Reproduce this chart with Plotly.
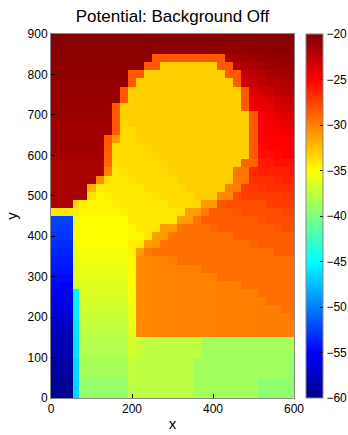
import plotly.graph_objects as go

title_text = "Potential: Background Off"
x_label = "x"
y_label = "y"

# cell edges of the potential map (data units)
x_edges = [0, 55, 70, 90, 110, 130, 150, 170, 190, 210, 230, 250, 270, 290, 310, 330,
           350, 370, 390, 410, 430, 450, 470, 490, 510, 530, 550, 570, 590, 600]
y_edges = [0, 50, 100, 150, 170, 190, 210, 230, 250, 270, 290, 310, 330, 350, 370, 390,
           410, 430, 450, 470, 490, 510, 530, 550, 570, 590, 610, 630, 650, 670, 690,
           710, 730, 750, 770, 790, 810, 830, 850, 870, 890, 900]

x_ticks = [0, 200, 400, 600]
y_ticks = [0, 100, 200, 300, 400, 500, 600, 700, 800, 900]
cbar_ticks = [-20, -25, -30, -35, -40, -45, -50, -55, -60]

# potential values, bottom row first,
# each row written as (value, number of cells) runs from left to right
potential_runs = [
    [(-59.5, 1), (-46.5, 1), (-39.1, 6), (-37.6, 8), (-38.6, 8), (-39.4, 5)],
    [(-59.0, 1), (-46.3, 1), (-38.5, 6), (-37.3, 1), (-37.6, 7), (-38.6, 12), (-39.4, 1)],
    [(-58.3, 1), (-46.0, 1), (-38.0, 6), (-36.7, 1), (-37.2, 1), (-37.6, 7), (-38.6, 12)],
    [(-58.0, 1), (-45.8, 1), (-37.6, 6), (-36.2, 1), (-30.4, 1), (-30.3, 1), (-30.1, 8), (-30.0, 5), (-29.9, 5)],
    [(-57.5, 1), (-45.7, 1), (-37.4, 6), (-36.0, 1), (-30.4, 1), (-30.3, 1), (-30.1, 8), (-30.0, 5), (-29.9, 5)],
    [(-57.0, 1), (-45.6, 1), (-37.2, 6), (-35.8, 1), (-30.4, 1), (-30.3, 1), (-30.1, 8), (-30.0, 5), (-29.9, 4), (-29.6, 1)],
    [(-56.5, 1), (-45.5, 1), (-36.9, 6), (-35.6, 1), (-30.4, 1), (-30.3, 1), (-30.1, 8), (-30.0, 5), (-29.9, 3), (-29.3, 2)],
    [(-56.0, 1), (-45.4, 1), (-36.6, 6), (-35.4, 1), (-30.4, 1), (-30.3, 1), (-30.1, 8), (-30.0, 5), (-29.9, 1), (-29.3, 4)],
    [(-55.5, 1), (-45.3, 1), (-36.4, 6), (-35.2, 1), (-30.4, 1), (-30.3, 1), (-30.1, 8), (-30.0, 4), (-29.9, 1), (-29.3, 5)],
    [(-55.0, 1), (-36.5, 1), (-36.2, 6), (-35.1, 1), (-30.4, 1), (-30.3, 1), (-30.1, 8), (-30.0, 2), (-29.9, 1), (-29.3, 7)],
    [(-54.6, 1), (-36.3, 1), (-36.0, 6), (-35.0, 1), (-30.4, 1), (-30.3, 1), (-30.1, 8), (-29.3, 10)],
    [(-54.2, 1), (-36.1, 1), (-35.8, 6), (-34.9, 1), (-30.4, 1), (-30.3, 1), (-30.1, 5), (-29.9, 1), (-29.3, 12)],
    [(-53.9, 1), (-35.9, 1), (-35.6, 6), (-34.8, 1), (-30.5, 1), (-30.3, 1), (-30.1, 2), (-29.9, 1), (-29.3, 15)],
    [(-53.6, 1), (-35.7, 1), (-35.4, 6), (-34.6, 1), (-31.2, 1), (-29.8, 1), (-29.3, 15), (-28.6, 3)],
    [(-53.3, 1), (-35.4, 1), (-35.1, 6), (-34.4, 1), (-34.3, 1), (-31.2, 1), (-31.0, 1), (-29.5, 1), (-29.3, 10), (-28.9, 1), (-28.6, 5)],
    [(-53.0, 1), (-35.3, 1), (-35.0, 6), (-34.7, 2), (-34.1, 1), (-31.2, 2), (-29.5, 1), (-29.3, 7), (-28.6, 8)],
    [(-52.7, 1), (-35.3, 1), (-35.0, 6), (-34.7, 1), (-34.1, 3), (-31.2, 2), (-29.6, 1), (-29.3, 3), (-29.0, 1), (-28.6, 7), (-28.3, 1), (-28.0, 2)],
    [(-52.4, 1), (-35.3, 1), (-35.0, 6), (-34.1, 6), (-31.2, 2), (-29.5, 1), (-28.6, 7), (-28.3, 1), (-28.0, 4)],
    [(-34.0, 1), (-34.3, 1), (-34.7, 5), (-34.4, 1), (-34.1, 6), (-33.8, 1), (-31.2, 2), (-29.8, 1), (-28.6, 3), (-28.3, 1), (-28.0, 5), (-27.7, 1), (-27.4, 1)],
    [(-21.6, 1), (-33.5, 1), (-34.4, 1), (-34.7, 3), (-34.4, 1), (-34.1, 6), (-33.6, 3), (-33.3, 1), (-31.0, 2), (-28.3, 1), (-28.0, 5), (-27.4, 4)],
    [(-21.6, 3), (-33.8, 1), (-34.7, 1), (-34.4, 1), (-34.1, 5), (-33.8, 1), (-33.6, 4), (-33.1, 3), (-30.5, 2), (-28.0, 1), (-27.4, 5), (-27.1, 1), (-26.8, 1)],
    [(-21.6, 3), (-32.0, 1), (-34.1, 6), (-33.6, 5), (-33.1, 5), (-30.0, 2), (-27.4, 2), (-27.1, 1), (-26.8, 4)],
    [(-21.6, 4), (-30.5, 1), (-33.8, 1), (-34.1, 2), (-33.8, 1), (-33.6, 5), (-33.1, 7), (-29.8, 2), (-26.8, 3), (-26.5, 1), (-26.2, 2)],
    [(-21.6, 5), (-30.0, 1), (-34.1, 1), (-33.8, 1), (-33.6, 5), (-33.3, 1), (-33.1, 7), (-29.5, 2), (-26.5, 1), (-26.2, 4), (-25.9, 1)],
    [(-21.6, 5), (-29.0, 1), (-33.8, 1), (-33.6, 5), (-33.3, 1), (-33.1, 9), (-28.8, 2), (-26.2, 1), (-25.9, 1), (-25.6, 3)],
    [(-21.5, 5), (-28.8, 1), (-33.6, 5), (-33.3, 1), (-33.1, 11), (-28.5, 1), (-25.6, 2), (-25.3, 1), (-25.0, 2)],
    [(-21.3, 5), (-28.6, 1), (-33.6, 4), (-33.3, 1), (-33.1, 12), (-28.5, 1), (-25.3, 1), (-25.1, 1), (-25.0, 3)],
    [(-21.3, 5), (-28.5, 1), (-31.0, 1), (-33.6, 2), (-33.3, 1), (-33.1, 13), (-28.5, 1), (-25.0, 5)],
    [(-21.3, 6), (-28.5, 1), (-33.6, 2), (-33.1, 14), (-28.5, 1), (-25.0, 1), (-24.9, 1), (-24.7, 1), (-24.5, 1), (-24.4, 1)],
    [(-21.3, 6), (-28.5, 1), (-33.3, 1), (-33.1, 15), (-28.5, 1), (-25.0, 1), (-24.7, 1), (-24.4, 1), (-24.2, 1), (-24.0, 1)],
    [(-21.0, 6), (-28.5, 1), (-33.1, 16), (-28.5, 1), (-24.8, 1), (-24.4, 1), (-24.0, 1), (-23.7, 1), (-23.5, 1)],
    [(-21.0, 6), (-28.5, 1), (-33.1, 15), (-28.5, 1), (-24.6, 1), (-24.3, 1), (-24.0, 1), (-23.6, 1), (-23.3, 1), (-23.0, 1)],
    [(-21.0, 7), (-28.5, 1), (-33.1, 14), (-28.5, 1), (-24.1, 1), (-23.8, 1), (-23.4, 1), (-23.0, 1), (-22.7, 1), (-22.5, 1)],
    [(-21.0, 7), (-28.5, 1), (-33.1, 14), (-28.5, 1), (-23.6, 1), (-23.2, 1), (-22.8, 1), (-22.5, 1), (-22.3, 1), (-22.1, 1)],
    [(-20.8, 8), (-28.5, 1), (-33.1, 12), (-28.5, 1), (-23.1, 1), (-22.8, 1), (-22.4, 1), (-22.1, 1), (-21.9, 1), (-21.8, 1), (-21.7, 1)],
    [(-20.6, 8), (-28.5, 2), (-33.1, 10), (-28.5, 2), (-22.6, 1), (-22.3, 1), (-22.0, 1), (-21.7, 1), (-21.5, 1), (-21.4, 1), (-21.3, 1)],
    [(-20.6, 10), (-28.5, 2), (-33.1, 7), (-28.5, 2), (-22.2, 1), (-21.9, 1), (-21.6, 1), (-21.4, 1), (-21.2, 1), (-21.1, 1), (-21.0, 2)],
    [(-20.5, 11), (-28.5, 9), (-21.5, 1), (-21.3, 1), (-21.1, 1), (-21.0, 1), (-20.9, 1), (-20.8, 2), (-20.7, 2)],
    [(-20.3, 11), (-20.6, 9), (-20.8, 1), (-20.7, 1), (-20.6, 2), (-20.5, 2), (-20.4, 3)],
    [(-20.2, 20), (-20.3, 9)],
    [(-20.1, 29)],
]

z = []
for runs in potential_runs:
    row = []
    for value, count in runs:
        row.extend([value] * count)
    assert len(row) == len(x_edges) - 1, (len(row), runs)
    z.append(row)
assert len(z) == len(y_edges) - 1

jet = [
    [0.0, "rgb(0,0,135)"],
    [0.125, "rgb(0,0,255)"],
    [0.375, "rgb(0,255,255)"],
    [0.625, "rgb(255,255,0)"],
    [0.875, "rgb(255,0,0)"],
    [1.0, "rgb(128,0,0)"],
]

fig = go.Figure(
    go.Heatmap(
        x=x_edges,
        y=y_edges,
        z=z,
        zmin=-60,
        zmax=-20,
        colorscale=jet,
        zsmooth=False,
        hoverinfo="skip",
        colorbar=dict(
            thickness=17,
            thicknessmode="pixels",
            len=1,
            lenmode="fraction",
            x=1.049,
            xanchor="left",
            xpad=0,
            ypad=0,
            y=0.5,
            yanchor="middle",
            tickvals=cbar_ticks,
            ticks="inside",
            ticklen=3,
            tickcolor="black",
            tickfont=dict(size=12, color="black"),
            outlinewidth=1,
            outlinecolor="#888888",
        ),
    )
)

fig.update_layout(
    width=348,
    height=435,
    margin=dict(l=51, r=54, t=34, b=37, autoexpand=False),
    paper_bgcolor="white",
    plot_bgcolor="white",
    font=dict(family="Liberation Sans, Arial, sans-serif", color="black"),
    title=dict(
        text=title_text,
        x=0.5,
        xref="paper",
        xanchor="center",
        y=1 - 16 / 435,
        yref="container",
        yanchor="middle",
        font=dict(size=17, color="black"),
    ),
    xaxis=dict(
        range=[0, 600],
        tickvals=x_ticks,
        ticks="inside",
        ticklen=4,
        tickcolor="black",
        tickfont=dict(size=12),
        showline=True,
        mirror=True,
        linecolor="#888888",
        linewidth=1,
        showgrid=False,
        zeroline=False,
        automargin=False,
        title=dict(text=x_label, font=dict(size=15), standoff=3),
    ),
    yaxis=dict(
        range=[0, 900],
        tickvals=y_ticks,
        ticks="inside",
        ticklen=4,
        tickcolor="black",
        tickfont=dict(size=12),
        showline=True,
        mirror=True,
        linecolor="#888888",
        linewidth=1,
        showgrid=False,
        zeroline=False,
        automargin=False,
        title=dict(text=y_label, font=dict(size=15), standoff=6),
    ),
)

fig.write_html("out.html")
